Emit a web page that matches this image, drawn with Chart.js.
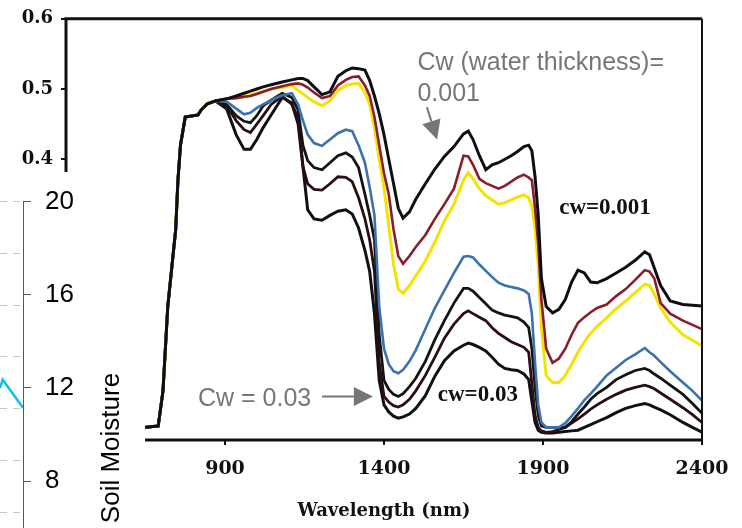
<!DOCTYPE html>
<html>
<head>
<meta charset="utf-8">
<script src="https://cdn.jsdelivr.net/npm/chart.js@4.4.1/dist/chart.umd.min.js"></script>
<style>
  html, body { margin: 0; padding: 0; background: #fff; overflow: hidden; }
  #wrap { position: relative; width: 742px; height: 528px; }
  #spectra { position: absolute; left: 0; top: 0; }
  #inset { position: absolute; left: 0; top: 172px; width: 145px; height: 356px; overflow: hidden; background: #fff; }
</style>
</head>
<body>
<div id="wrap">
  <canvas id="spectra" width="742" height="528"></canvas>
  <div id="inset"><canvas id="moisture" width="145" height="525"></canvas></div>
</div>
<script>
// wavelengths (nm) shared by every spectrum
const wavelengths = [400, 650, 690, 705, 720, 745, 752, 760, 775, 815, 825, 845, 870,
  905, 935, 960, 980, 1000, 1020, 1045, 1080, 1110, 1130, 1145, 1160, 1180, 1205, 1230, 1255,
  1280, 1300, 1320, 1340, 1355, 1370, 1385, 1400, 1415, 1430, 1445, 1460, 1480, 1500, 1530,
  1560, 1590, 1620, 1650, 1665, 1680, 1700, 1720, 1740, 1760, 1780, 1800, 1820, 1840, 1855,
  1865, 1875, 1885, 1895, 1910, 1930, 1950, 1970, 1990, 2010, 2030, 2050, 2070, 2100, 2130,
  2160, 2190, 2220, 2235, 2250, 2270, 2300, 2340, 2370, 2400];

// 400-870 nm: all curves lie on top of each other
const sharedPart = [0.018, 0.018, 0.02, 0.07, 0.19, 0.30, 0.37, 0.42, 0.46, 0.463, 0.47, 0.479, 0.483];

// 905-2400 nm, from thinnest water layer (top) to thickest (bottom)
const cw001 = [0.486, 0.490, 0.494, 0.497, 0.500, 0.503, 0.506, 0.510, 0.513, 0.515, 0.515, 0.512, 0.503, 0.492, 0.496, 0.518,
  0.526, 0.530, 0.529, 0.527, 0.512, 0.490, 0.465, 0.435, 0.400, 0.365, 0.330, 0.316, 0.325, 0.343, 0.365,
  0.386, 0.404, 0.418, 0.436, 0.440, 0.428, 0.405, 0.385, 0.392, 0.395, 0.400, 0.405, 0.411, 0.418, 0.420,
  0.412, 0.375, 0.320, 0.230, 0.190, 0.181, 0.186, 0.200, 0.225, 0.242, 0.238, 0.225, 0.224, 0.230, 0.238,
  0.246, 0.256, 0.268, 0.264, 0.245, 0.220, 0.198, 0.193, 0.192, 0.191];
const cwB = [0.486, 0.487, 0.489, 0.490, 0.493, 0.496, 0.500, 0.504, 0.507, 0.508, 0.506, 0.502, 0.495, 0.487, 0.490, 0.505,
  0.513, 0.517, 0.518, 0.505, 0.490, 0.460, 0.420, 0.380, 0.350, 0.300, 0.262, 0.251, 0.262, 0.275, 0.292,
  0.315, 0.336, 0.358, 0.405, 0.404, 0.392, 0.372, 0.366, 0.362, 0.358, 0.362, 0.368, 0.374, 0.378, 0.374,
  0.370, 0.330, 0.280, 0.200, 0.130, 0.110, 0.116, 0.130, 0.150, 0.167, 0.175, 0.182, 0.188, 0.193, 0.205,
  0.215, 0.228, 0.242, 0.240, 0.230, 0.195, 0.180, 0.170, 0.164, 0.158];
const cwC = [0.486, 0.487, 0.489, 0.492, 0.494, 0.497, 0.500, 0.502, 0.505, 0.498, 0.493, 0.488, 0.482, 0.476, 0.483, 0.498,
  0.505, 0.507, 0.508, 0.495, 0.478, 0.445, 0.400, 0.360, 0.305, 0.250, 0.215, 0.209, 0.220, 0.234, 0.255,
  0.282, 0.312, 0.336, 0.370, 0.381, 0.372, 0.358, 0.348, 0.342, 0.336, 0.338, 0.342, 0.346, 0.349, 0.345,
  0.333, 0.300, 0.250, 0.160, 0.092, 0.082, 0.082, 0.092, 0.108, 0.125, 0.140, 0.152, 0.162, 0.174, 0.187,
  0.198, 0.210, 0.222, 0.220, 0.208, 0.188, 0.168, 0.150, 0.142, 0.134];
const cwD = [0.482, 0.472, 0.464, 0.466, 0.473, 0.478, 0.484, 0.491, 0.494, 0.478, 0.455, 0.435, 0.423, 0.419, 0.428, 0.437,
  0.442, 0.440, 0.420, 0.395, 0.360, 0.320, 0.190, 0.130, 0.108, 0.098, 0.095, 0.100, 0.112, 0.128, 0.158,
  0.188, 0.213, 0.238, 0.261, 0.262, 0.260, 0.250, 0.241, 0.232, 0.224, 0.220, 0.218, 0.216, 0.213, 0.208,
  0.180, 0.110, 0.050, 0.025, 0.018, 0.018, 0.018, 0.024, 0.034, 0.045, 0.057, 0.066, 0.076, 0.092, 0.103,
  0.114, 0.122, 0.131, 0.125, 0.120, 0.111, 0.098, 0.082, 0.070, 0.056];
const cwE = [0.478, 0.462, 0.454, 0.452, 0.462, 0.476, 0.484, 0.494, 0.488, 0.470, 0.420, 0.398, 0.388, 0.385, 0.395, 0.405,
  0.409, 0.403, 0.388, 0.350, 0.320, 0.285, 0.150, 0.085, 0.072, 0.065, 0.062, 0.066, 0.076, 0.088, 0.112,
  0.143, 0.170, 0.195, 0.216, 0.216, 0.212, 0.203, 0.194, 0.185, 0.181, 0.178, 0.176, 0.174, 0.168, 0.160,
  0.130, 0.075, 0.035, 0.020, 0.018, 0.018, 0.018, 0.018, 0.026, 0.037, 0.047, 0.058, 0.066, 0.075, 0.086,
  0.093, 0.099, 0.102, 0.099, 0.094, 0.088, 0.078, 0.065, 0.052, 0.038];
const cwF = [0.476, 0.455, 0.442, 0.438, 0.450, 0.462, 0.478, 0.490, 0.478, 0.460, 0.390, 0.365, 0.357, 0.356, 0.365, 0.375,
  0.374, 0.368, 0.345, 0.315, 0.285, 0.240, 0.110, 0.062, 0.054, 0.049, 0.047, 0.050, 0.058, 0.070, 0.092,
  0.118, 0.145, 0.165, 0.180, 0.184, 0.180, 0.175, 0.170, 0.160, 0.152, 0.146, 0.140, 0.136, 0.132, 0.125,
  0.080, 0.035, 0.018, 0.013, 0.011, 0.012, 0.015, 0.018, 0.024, 0.030, 0.037, 0.044, 0.050, 0.058, 0.065,
  0.071, 0.075, 0.078, 0.076, 0.073, 0.067, 0.058, 0.046, 0.036, 0.025];
const cw03 = [0.472, 0.435, 0.414, 0.414, 0.428, 0.445, 0.463, 0.488, 0.480, 0.450, 0.390, 0.328, 0.315, 0.313, 0.320, 0.326,
  0.328, 0.322, 0.302, 0.270, 0.240, 0.180, 0.085, 0.050, 0.040, 0.034, 0.031, 0.033, 0.037, 0.045, 0.063,
  0.091, 0.113, 0.127, 0.135, 0.138, 0.136, 0.132, 0.127, 0.118, 0.108, 0.102, 0.100, 0.099, 0.094, 0.086,
  0.055, 0.025, 0.014, 0.011, 0.010, 0.010, 0.011, 0.012, 0.013, 0.014, 0.018, 0.022, 0.026, 0.032, 0.039,
  0.045, 0.049, 0.052, 0.050, 0.047, 0.043, 0.036, 0.025, 0.018, 0.011];

const xTicks = [900, 1400, 1900, 2400];
const yTicks = [0.4, 0.5, 0.6];

// inset: tail of a soil moisture series
const smDay = [27.9, 28, 28.75];
const smMoisture = [12.0, 12.35, 11.15];
const smTicks = [8, 12, 16, 20];

const spectra = [
  { values: cw001, color: "#0e0e16", width: 3 },
  { values: cwB, color: "#8a1c2b", width: 2.6 },
  { values: cwC, color: "#f2e400", width: 3 },
  { values: cwD, color: "#3a72b0", width: 2.6 },
  { values: cwE, color: "#141414", width: 2.8 },
  { values: cwF, color: "#2b0e12", width: 2.8 },
  { values: cw03, color: "#101018", width: 3 },
];

const toPoints = (vals) => {
  const all = sharedPart.concat(vals);
  return wavelengths.map((w, i) => ({ x: w, y: all[i] }));
};

const grey = "#767676";
const notes = [
  { text: "Cw (water thickness)=", x: 1505, y: 0.527, font: "25px 'Liberation Sans', Arial", color: grey, align: "left", base: "alphabetic" },
  { text: "0.001", x: 1505, y: 0.483, font: "25px 'Liberation Sans', Arial", color: grey, align: "left", base: "alphabetic" },
  { text: "cw=0.001", x: 2095, y: 0.330, font: "bold 23px 'Liberation Serif', 'Times New Roman'", color: "#111", align: "center", base: "middle" },
  { text: "cw=0.03", x: 1695, y: 0.064, font: "bold 23px 'Liberation Serif', 'Times New Roman'", color: "#111", align: "center", base: "middle" },
  { text: "Cw = 0.03", x: 815, y: 0.048, font: "25px 'Liberation Sans', Arial", color: grey, align: "left", base: "alphabetic" },
];
const arrows = [
  { from: [1535, 0.474], to: [1567, 0.428] },
  { from: [1205, 0.062], to: [1365, 0.062] },
];

const framePlugin = {
  id: "frame",
  afterDatasetsDraw(chart) {
    const { ctx, chartArea: a } = chart;
    ctx.save();
    ctx.strokeStyle = "#111";
    ctx.lineWidth = 3;
    ctx.beginPath();
    ctx.moveTo(a.right, a.top);
    ctx.lineTo(a.left, a.top);
    ctx.lineTo(a.left, a.bottom);
    ctx.lineTo(a.right, a.bottom);
    ctx.stroke();
    ctx.lineWidth = 2;
    ctx.beginPath();
    ctx.moveTo(a.right, a.top);
    ctx.lineTo(a.right, a.bottom);
    ctx.stroke();
    ctx.restore();
  },
};

const notesPlugin = {
  id: "notes",
  afterDraw(chart) {
    const { ctx, scales } = chart;
    ctx.save();
    notes.forEach((n) => {
      ctx.font = n.font;
      ctx.fillStyle = n.color;
      ctx.textAlign = n.align;
      ctx.textBaseline = n.base;
      ctx.fillText(n.text, scales.x.getPixelForValue(n.x), scales.y.getPixelForValue(n.y));
    });
    ctx.strokeStyle = grey;
    ctx.fillStyle = grey;
    ctx.lineWidth = 2;
    arrows.forEach((ar) => {
      const x1 = scales.x.getPixelForValue(ar.from[0]);
      const y1 = scales.y.getPixelForValue(ar.from[1]);
      const x2 = scales.x.getPixelForValue(ar.to[0]);
      const y2 = scales.y.getPixelForValue(ar.to[1]);
      const len = Math.hypot(x2 - x1, y2 - y1);
      const ux = (x2 - x1) / len, uy = (y2 - y1) / len;
      const head = 19, half = 9.5;
      ctx.beginPath();
      ctx.moveTo(x1, y1);
      ctx.lineTo(x2 - ux * head, y2 - uy * head);
      ctx.stroke();
      ctx.beginPath();
      ctx.moveTo(x2, y2);
      ctx.lineTo(x2 - ux * head - uy * half, y2 - uy * head + ux * half);
      ctx.lineTo(x2 - ux * head + uy * half, y2 - uy * head - ux * half);
      ctx.closePath();
      ctx.fill();
    });
    ctx.restore();
  },
};

const tickFont = { family: "'DejaVu Serif', serif", weight: "bold", size: 18 };

new Chart(document.getElementById("spectra"), {
  type: "line",
  data: {
    datasets: spectra.map((s) => ({
      data: toPoints(s.values),
      borderColor: s.color,
      borderWidth: s.width,
      pointRadius: 0,
      tension: 0,
      fill: false,
    })),
  },
  options: {
    responsive: false,
    animation: false,
    layout: { padding: { left: 0, right: 40, top: 15, bottom: 0 } },
    plugins: { legend: { display: false }, tooltip: { enabled: false } },
    scales: {
      x: {
        type: "linear",
        min: 400,
        max: 2400,
        afterBuildTicks: (s) => { s.ticks = [400].concat(xTicks).map((v) => ({ value: v })); },
        ticks: { font: { ...tickFont, size: 19 }, color: "#111", padding: 13, maxRotation: 0, callback: (v) => String(v) },
        grid: { drawOnChartArea: false, tickLength: 5, color: "#111", lineWidth: 2 },
        border: { display: false },
        title: {
          display: true,
          text: "Wavelength (nm)",
          font: { family: "'DejaVu Serif', serif", weight: "bold", size: 18 },
          color: "#111",
          padding: { top: 0, bottom: 6 },
        },
        afterFit: (s) => { s.height = 88; },
      },
      y: {
        min: 0,
        max: 0.6,
        afterBuildTicks: (s) => { s.ticks = [0, 0.1, 0.2, 0.3].concat(yTicks).map((v) => ({ value: v })); },
        ticks: { font: tickFont, color: "#111", padding: 8, callback: (v) => v.toFixed(1) },
        grid: { drawOnChartArea: false, tickLength: 5, color: "#111", lineWidth: 2 },
        border: { display: false },
        afterFit: (s) => { s.width = 66; },
      },
    },
  },
  plugins: [framePlugin, notesPlugin],
});

// inset chart (right axis of another figure pasted over the corner)
const insetTitle = {
  id: "insetTitle",
  afterDraw(chart) {
    const { ctx } = chart;
    const a = chart.scales.y1;
    ctx.save();
    ctx.translate(a.left + 96, 276);
    ctx.rotate(-Math.PI / 2);
    ctx.font = "26px 'Liberation Sans', Arial";
    ctx.fillStyle = "#000";
    ctx.textAlign = "center";
    ctx.textBaseline = "alphabetic";
    ctx.fillText("Soil Moisture", 0, 0);
    ctx.restore();
  },
};

new Chart(document.getElementById("moisture"), {
  type: "line",
  data: {
    datasets: [{
      data: smDay.map((d, i) => ({ x: d, y: smMoisture[i] })),
      yAxisID: "y1",
      borderColor: "#13bdf0",
      borderWidth: 2.5,
      pointRadius: 0,
      tension: 0,
    }],
  },
  options: {
    responsive: false,
    animation: false,
    layout: { padding: { left: 0, right: 0, top: 13, bottom: 16 } },
    plugins: { legend: { display: false }, tooltip: { enabled: false } },
    scales: {
      x: { type: "linear", min: 27.9, max: 28.75, display: false },
      y: {
        min: 0,
        max: 9,
        ticks: { display: false, stepSize: 1 },
        grid: { color: "#c8c8c8", lineWidth: 1, drawTicks: false },
        border: { display: false, dash: [7, 6] },
        afterFit: (s) => { s.width = 0; },
      },
      y1: {
        position: "right",
        min: 0,
        max: 20,
        afterBuildTicks: (s) => { s.ticks = [0, 4].concat(smTicks).map((v) => ({ value: v })); },
        ticks: { font: { family: "'Liberation Sans', Arial", size: 26 }, color: "#000", padding: 14 },
        grid: { drawOnChartArea: false, tickLength: 8, color: "#595959", lineWidth: 1 },
        border: { display: true, color: "#595959", width: 1 },
        afterFit: (s) => { s.width = 122; },
      },
    },
  },
  plugins: [insetTitle],
});
</script>
</body>
</html>
